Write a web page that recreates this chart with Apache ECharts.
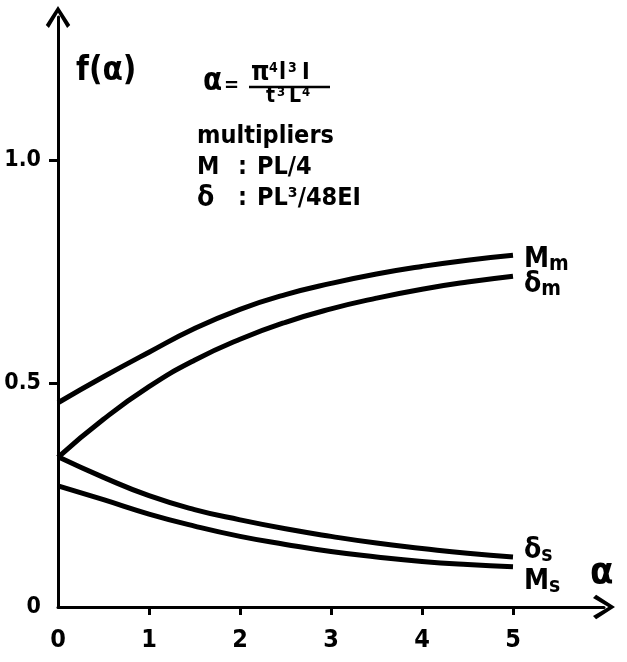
<!DOCTYPE html>
<html><head><meta charset="utf-8">
<script src="https://cdn.jsdelivr.net/npm/echarts@6/dist/echarts.min.js"></script>
<style>html,body{margin:0;padding:0;background:#fff}#c{width:627px;height:662px}</style>
</head><body><div id="c"></div>
<script>
// Data
const alpha = [0, 0.5, 1, 1.5, 2, 2.5, 3, 3.5, 4, 4.5, 5];
const Mm = [0.457, 0.515, 0.570, 0.623, 0.666, 0.699, 0.724, 0.745, 0.762, 0.776, 0.787];
const Dm = [0.335, 0.420, 0.493, 0.552, 0.599, 0.637, 0.667, 0.691, 0.711, 0.727, 0.740];
const Ds = [0.336, 0.290, 0.249, 0.218, 0.195, 0.175, 0.158, 0.143, 0.131, 0.120, 0.112];
const Ms = [0.271, 0.240, 0.208, 0.181, 0.158, 0.140, 0.124, 0.112, 0.102, 0.095, 0.090];
const seriesValues = [Mm, Dm, Ds, Ms];
const labelMain = ['M', 'δ', 'δ', 'M'];
const labelSub = ['m', 'm', 's', 's'];
const xTicks = [0, 1, 2, 3, 4, 5];
const yTicks = [0, 0.5, 1.0];
const yTickLabels = ['0', '0.5', '1.0'];

const FONT = "'DejaVu Sans Condensed','DejaVu Sans',sans-serif";
const chevron = 'path://M11,0 L22,17 L19.2,19.8 L11,6 L2.8,19.8 L0,17 Z';
const labelOffsets = [[3, 4], [3, 8], [3, -6], [3, 15]];

function txt(s, left, top, size) {
  return {type: 'text', left: left, top: top, style: {text: s, font: 'bold ' + size + 'px ' + FONT, fill: '#000'}};
}

const chart = echarts.init(document.getElementById('c'), null, {renderer: 'canvas'});
const option = {
  animation: false,
  backgroundColor: '#fff',
  grid: {left: 58, top: 17, width: 546, bottom: 55, containLabel: false, outerBoundsMode: 'none'},
  xAxis: {
    type: 'value', min: 0, max: 6, interval: 1,
    splitLine: {show: false},
    axisLine: {lineStyle: {color: '#000', width: 3}, symbol: ['none', chevron], symbolSize: [26, 22]},
    axisTick: {show: true, length: 8, lineStyle: {color: '#000', width: 3}, customValues: xTicks.slice(1)},
    axisLabel: {customValues: xTicks, margin: 21, color: '#000', fontFamily: FONT, fontWeight: 'bold', fontSize: 25,
      formatter: v => String(v)}
  },
  yAxis: {
    type: 'value', min: 0, max: 1.32, interval: 0.5,
    splitLine: {show: false},
    axisLine: {lineStyle: {color: '#000', width: 3}, symbol: ['none', chevron], symbolSize: [26, 22]},
    axisTick: {show: true, length: 9, lineStyle: {color: '#000', width: 3}, customValues: yTicks.slice(1)},
    axisLabel: {customValues: yTicks, margin: 17, color: '#000', fontFamily: FONT, fontWeight: 'bold', fontSize: 23,
      formatter: v => yTickLabels[yTicks.indexOf(v)] ?? ''}
  },
  series: seriesValues.map((vals, i) => ({
    type: 'line',
    smooth: true,
    symbol: 'none',
    data: alpha.map((a, j) => [a, vals[j]]),
    lineStyle: {color: '#000', width: 5},
    endLabel: {
      show: true,
      offset: labelOffsets[i],
      formatter: () => '{a|' + labelMain[i] + '}{b|' + labelSub[i] + '}',
      rich: {
        a: {fontFamily: FONT, fontWeight: 'bold', fontSize: 28, color: '#000', lineHeight: 30},
        b: {fontFamily: FONT, fontWeight: 'bold', fontSize: 21, color: '#000', padding: [10, 0, 0, 0], lineHeight: 30}
      }
    }
  })),
  graphic: [
    txt('f(α)', 76, 55, 33),
    txt('α', 590, 554, 38),
    txt('α', 203, 66, 31),
    txt('=', 224, 76, 20),
    txt('π', 251, 60, 26),
    txt('4', 269, 61, 14),
    txt('l', 279, 62, 23),
    txt('3', 288, 61, 14),
    txt('I', 302, 62, 23),
    {type: 'line', shape: {x1: 249, y1: 87, x2: 330, y2: 87}, style: {stroke: '#000', lineWidth: 2.5}},
    txt('t', 266, 86, 21),
    txt('3', 277, 86, 13),
    txt('L', 289, 86, 21),
    txt('4', 302, 86, 13),
    txt('multipliers', 197, 124, 25),
    txt('M', 197, 155, 25),
    txt(':', 238, 155, 25),
    txt('PL/4', 257, 155, 25),
    txt('δ', 197, 185, 28),
    txt(':', 238, 186, 25),
    txt('PL³/48EI', 257, 186, 25)
  ]
};
chart.setOption(option);
</script>
</body></html>
